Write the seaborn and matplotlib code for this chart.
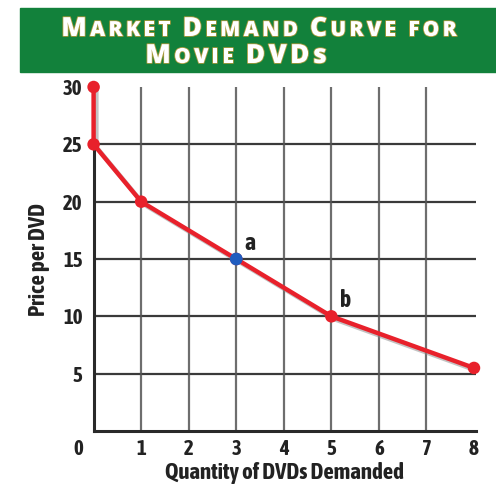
import matplotlib
matplotlib.use("Agg")
import matplotlib.pyplot as plt
import matplotlib.patheffects as pe
import seaborn as sns
import pandas as pd

# data
quantity = [0, 0, 1, 3, 5, 8]
price = [30, 25, 20, 15, 10, 5.5]
point_a = (3, 15)
point_b = (5, 10)
x_ticks = [1, 2, 3, 4, 5, 6, 7, 8]
y_ticks = [5, 10, 15, 20, 25, 30]
grid_x = [1, 2, 3, 4, 5, 6, 7]
grid_y = [5, 10, 15, 20, 25]

sns.set_style("white")
plt.rcParams["font.family"] = ["Asap Condensed", "DejaVu Sans"]
plt.rcParams["font.weight"] = "bold"
plt.rcParams["font.stretch"] = "condensed"
plt.rcParams["axes.labelweight"] = "bold"

W, H = 496, 494
fig = plt.figure(figsize=(W / 100, H / 100), dpi=100)
ax = fig.add_axes([93.6 / W, (H - 431) / H, 382.3 / W, 344 / H])

df = pd.DataFrame({"Quantity": quantity, "Price": price})

# grid
ax.hlines(grid_y, 0, 8.04, color="#3a3a3a", lw=1.6, zorder=1)
ax.vlines(grid_x, 0, 30, color="#555555", lw=1.6, alpha=0.85, zorder=1)

shadow = [pe.SimpleLineShadow(offset=(2, -2), shadow_color="#888888", alpha=0.5), pe.Normal()]
sns.lineplot(data=df, x="Quantity", y="Price", sort=False, estimator=None, color="#e8212b",
             lw=3.2, marker="o", markersize=9, markeredgewidth=0, ax=ax,
             zorder=5, clip_on=False)
ax.lines[-1].set_path_effects(shadow)
sns.scatterplot(x=[point_a[0]], y=[point_a[1]], color="#1f5cbf", s=85,
                edgecolor="none", ax=ax, zorder=6, clip_on=False)

ax.text(point_a[0] + 0.18, point_a[1] + 0.8, "a", fontsize=17, color="#222222")
ax.text(point_b[0] + 0.18, point_b[1] + 0.8, "b", fontsize=17, color="#222222")

ax.set_xlim(0, 8.04)
ax.set_ylim(0, 30)
ax.set_xticks(x_ticks)
ax.set_yticks(y_ticks)
ax.tick_params(length=0, labelsize=15, colors="#222222", pad=6)
ax.tick_params(axis="y", pad=8)
for lab in ax.get_xticklabels() + ax.get_yticklabels():
    lab.set_fontweight("bold")
ax.text(0, 0, "0", fontsize=15, color="#222222", ha="center", va="top",
        transform=ax.transData + matplotlib.transforms.ScaledTranslation(-0.155, -0.075, fig.dpi_scale_trans))

for s in ["top", "right"]:
    ax.spines[s].set_visible(False)
for s in ["left", "bottom"]:
    ax.spines[s].set_color("#2a2a2a")
    ax.spines[s].set_linewidth(2.2)
ax.spines["left"].set_bounds(0, 25)

ax.set_xlabel("Quantity of DVDs Demanded", fontsize=16.5, fontweight="bold", color="#222222", labelpad=2)
ax.set_ylabel("Price per DVD", fontsize=16.5, fontweight="bold", color="#222222", labelpad=9)

# title banner
fig.patches.append(plt.Rectangle((20 / W, 1 - 72 / H), 1, 64 / H, transform=fig.transFigure,
                                 color="#12813b", zorder=0))

stroke = [pe.withStroke(linewidth=1.2, foreground="#a89a3c")]
title_font = ["Open Sans", "DejaVu Sans"]


def small_caps(words, cx, base_y, big=19, small=15, track=3.3):
    pieces = []
    for i, w in enumerate(words):
        if w[0].isupper() and len(w) > 1 and w[1:].islower():
            pieces.append((w[0], big))
            pieces += [(c, small) for c in w[1:].upper()]
        elif w == "FOR":
            pieces += [(c, small) for c in w]
        else:
            pieces += [(c, big) for c in w]
        if i < len(words) - 1:
            pieces.append((" ", small))
    r = fig.canvas.get_renderer()
    texts = []
    for t, fs in pieces:
        txt = fig.text(0, base_y / H, t.replace(" ", "\u00a0"), fontsize=fs, fontweight="heavy",
                       family=title_font, stretch="normal",
                       color="white", va="baseline", ha="left", path_effects=stroke)
        texts.append(txt)
    widths = [t.get_window_extent(r).width + track for t in texts]
    x = cx - (sum(widths) - track) / 2
    for t, w in zip(texts, widths):
        t.set_x(x / W)
        x += w


small_caps(["Market", "Demand", "Curve", "FOR"], 259, H - 36)
small_caps(["Movie", "DVDs"], 236, H - 63)

fig.savefig("out.png", dpi=100)
